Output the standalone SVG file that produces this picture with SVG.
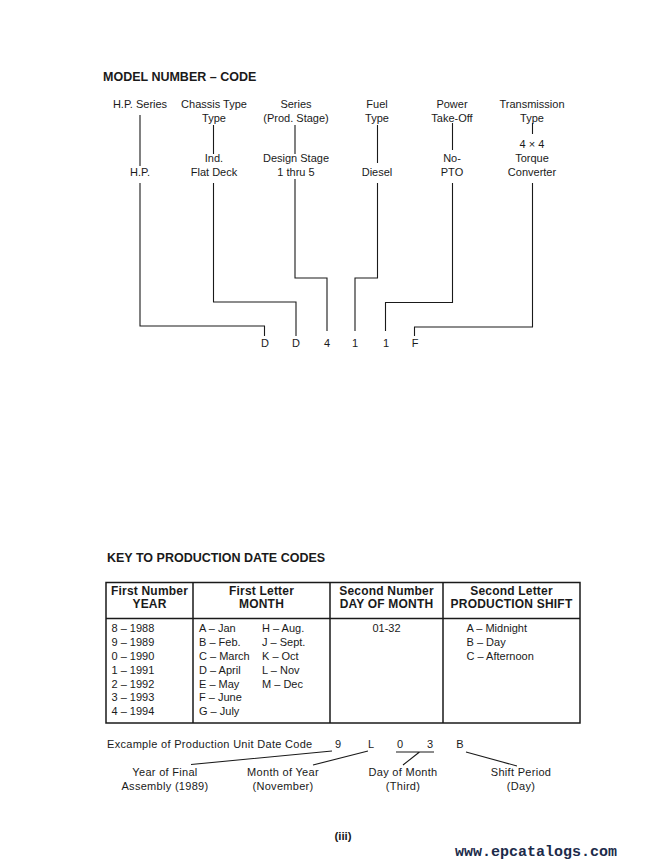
<svg xmlns="http://www.w3.org/2000/svg" width="668" height="868" viewBox="0 0 668 868">
<style>
text{font-family:"Liberation Sans",Arial,sans-serif;font-size:11px;fill:#1a1a1a}
.c{text-anchor:middle}
.b{font-weight:bold;font-size:12px;letter-spacing:0.2px}
.h{font-weight:bold;font-size:12.5px}
.s{letter-spacing:0.3px}
.ln{fill:none;stroke:#1a1a1a;stroke-width:1.1}
.tb{fill:none;stroke:#1a1a1a;stroke-width:1.5}
.wm{font-family:"Liberation Mono","DejaVu Sans Mono",monospace;font-weight:bold;font-size:15px;fill:#1c2b4a}
</style>
<rect width="668" height="868" fill="#fff"/>
<text class="h" x="103" y="81">MODEL NUMBER – CODE</text>

<g id="hp">
<text class="c" x="140" y="108">H.P. Series</text>
<text class="c" x="140" y="176">H.P.</text>
</g>
<g id="chassis">
<text class="c" x="214" y="108">Chassis Type</text>
<text class="c" x="214" y="122">Type</text>
<text class="c" x="214" y="162">Ind.</text>
<text class="c" x="214" y="176">Flat Deck</text>
</g>
<g id="series">
<text class="c" x="296" y="108">Series</text>
<text class="c" x="296" y="122">(Prod. Stage)</text>
<text class="c" x="296" y="162">Design Stage</text>
<text class="c" x="296" y="176">1 thru 5</text>
</g>
<g id="fuel">
<text class="c" x="377" y="108">Fuel</text>
<text class="c" x="377" y="122">Type</text>
<text class="c" x="377" y="176">Diesel</text>
</g>
<g id="pto">
<text class="c" x="452" y="108">Power</text>
<text class="c" x="452" y="122">Take-Off</text>
<text class="c" x="452" y="162">No-</text>
<text class="c" x="452" y="176">PTO</text>
</g>
<g id="trans">
<text class="c" x="532" y="108">Transmission</text>
<text class="c" x="532" y="122">Type</text>
<text class="c" x="532" y="148">4 × 4</text>
<text class="c" x="532" y="162">Torque</text>
<text class="c" x="532" y="176">Converter</text>
</g>
<g id="code">
<text class="c" x="265" y="347">D</text>
<text class="c" x="296" y="347">D</text>
<text class="c" x="327" y="347">4</text>
<text class="c" x="355" y="347">1</text>
<text class="c" x="386" y="347">1</text>
<text class="c" x="415" y="347">F</text>
</g>

<g id="connectors">
<path class="ln" d="M140 115V166M140 183V326H264.5V336"/>
<path class="ln" d="M213.5 125V154M213.5 183V302H296V336"/>
<path class="ln" d="M295 125V154M295 179V278H327V331"/>
<path class="ln" d="M377.5 125V163M377.5 183V278H355V331"/>
<path class="ln" d="M452.5 123V150M452.5 183V302.5H385.5V331"/>
<path class="ln" d="M532.5 123V134M532.5 183V327H414.5V336"/>
<path class="ln" d="M332 751L191 764.5M368 751L313 765M396 752H434M419.5 752L403 765M466 752L517 766"/>
</g>

<text class="h" x="107" y="562">KEY TO PRODUCTION DATE CODES</text>

<g id="table">
<rect class="tb" x="106" y="582.5" width="474" height="140.5"/>
<path class="tb" d="M106 618.5H580M193 582.5V723M330 582.5V723M443 582.5V723"/>
<text class="c b" x="149.5" y="595">First Number</text>
<text class="c b" x="149.5" y="608">YEAR</text>
<text class="c b" x="261.5" y="595">First Letter</text>
<text class="c b" x="261.5" y="608">MONTH</text>
<text class="c b" x="386.5" y="595">Second Number</text>
<text class="c b" x="386.5" y="608">DAY OF MONTH</text>
<text class="c b" x="511.5" y="595">Second Letter</text>
<text class="c b" x="511.5" y="608">PRODUCTION SHIFT</text>
<text x="111.5" y="632">8 – 1988</text>
<text x="111.5" y="646">9 – 1989</text>
<text x="111.5" y="660">0 – 1990</text>
<text x="111.5" y="673.5">1 – 1991</text>
<text x="111.5" y="687.5">2 – 1992</text>
<text x="111.5" y="701">3 – 1993</text>
<text x="111.5" y="715">4 – 1994</text>
<text x="199" y="632">A – Jan</text>
<text x="199" y="646">B – Feb.</text>
<text x="199" y="660">C – March</text>
<text x="199" y="673.5">D – April</text>
<text x="199" y="687.5">E – May</text>
<text x="199" y="701">F – June</text>
<text x="199" y="715">G – July</text>
<text x="262" y="632">H – Aug.</text>
<text x="262" y="646">J – Sept.</text>
<text x="262" y="660">K – Oct</text>
<text x="262" y="673.5">L – Nov</text>
<text x="262" y="687.5">M – Dec</text>
<text class="c" x="386.5" y="632">01-32</text>
<text x="466.5" y="632">A – Midnight</text>
<text x="466.5" y="646">B – Day</text>
<text x="466.5" y="660">C – Afternoon</text>
</g>

<g id="example">
<text class="s" x="107" y="748">Excample of Production Unit Date Code</text>
<text class="c" x="338" y="748">9</text>
<text class="c" x="371" y="748">L</text>
<text class="c" x="400" y="748">0</text>
<text class="c" x="430" y="748">3</text>
<text class="c" x="460" y="748">B</text>
</g>
<g id="lbl-year"><text class="c s" x="165" y="776">Year of Final</text><text class="c s" x="165" y="789.5">Assembly (1989)</text></g>
<g id="lbl-month"><text class="c s" x="283" y="776">Month of Year</text><text class="c s" x="283" y="789.5">(November)</text></g>
<g id="lbl-day"><text class="c s" x="403" y="776">Day of Month</text><text class="c s" x="403" y="789.5">(Third)</text></g>
<g id="lbl-shift"><text class="c s" x="521" y="776">Shift Period</text><text class="c s" x="521" y="789.5">(Day)</text></g>

<text class="c" x="343" y="840" style="font-size:11.5px;font-weight:bold">(iii)</text>
<text class="wm" x="455" y="856">www.epcatalogs.com</text>
</svg>
